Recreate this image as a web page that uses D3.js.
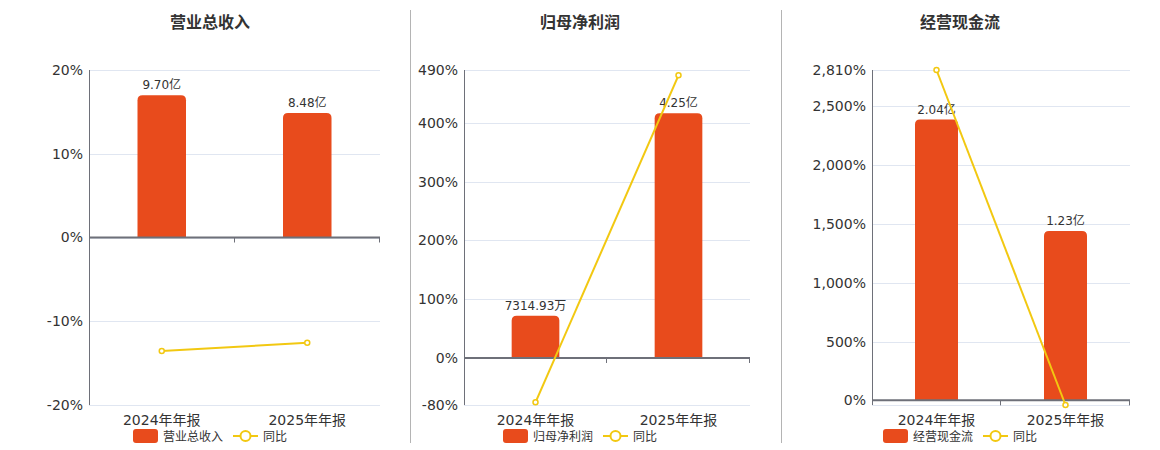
<!DOCTYPE html>
<html>
<head>
<meta charset="utf-8">
<script src="https://cdn.jsdelivr.net/npm/d3@7/dist/d3.min.js"></script>
<style>
  body { margin: 0; background: #fff; }
  text { font-family: "DejaVu Sans", "Noto Sans CJK SC", sans-serif; }
</style>
</head>
<body>
<div class="chart-area"></div>
<script>
// data
var categories = ["2024年年报", "2025年年报"];
var titles = ["营业总收入", "归母净利润", "经营现金流"];

var revenueValues = [9.70, 8.48];
var profitValues = [0.731493, 4.25];
var cashValues = [2.04, 1.23];

var revenueLabels = ["9.70亿", "8.48亿"];
var profitLabels = ["7314.93万", "4.25亿"];
var cashLabels = ["2.04亿", "1.23亿"];

var revenueYoy = [-13.55, -12.58];
var profitYoy = [-75.4, 481];
var cashYoy = [2810, -39.7];

var revenueTicks = [-20, -10, 0, 10, 20];
var profitTicks = [-80, 0, 100, 200, 300, 400, 490];
var cashTicks = [0, 500, 1000, 1500, 2000, 2500, 2810];

var revenueDomain = [-20, 20];
var profitDomain = [-80, 490];
var cashDomain = [-39.7, 2810];

var barColor = "#e84b1c";
var lineColor = "#f2c811";
var axisColor = "#6e7079";
var gridColor = "#e0e6f1";

var panels = [
    { title: titles[0], bars: revenueValues, labels: revenueLabels, yoy: revenueYoy,
      ticks: revenueTicks, domain: revenueDomain, left: 89, right: 380, cx: 210 },
    { title: titles[1], bars: profitValues, labels: profitLabels, yoy: profitYoy,
      ticks: profitTicks, domain: profitDomain, left: 464, right: 750, cx: 580 },
    { title: titles[2], bars: cashValues, labels: cashLabels, yoy: cashYoy,
      ticks: cashTicks, domain: cashDomain, left: 872, right: 1130, cx: 960 }
];

var plotTop = 70, plotBottom = 405;

var svg = d3.select(".chart-area").append("svg")
    .attr("width", 1160)
    .attr("height", 450);

// separators between the panels
svg.selectAll("line.sep")
    .data([410.5, 781.5])
    .enter()
    .append("line")
    .attr("x1", function(d) { return d; })
    .attr("x2", function(d) { return d; })
    .attr("y1", 10)
    .attr("y2", 443)
    .attr("stroke", "#b4b4b4")
    .attr("stroke-width", 1);

// rounded top bar path
function barPath(x, y, w, h, r) {
    r = Math.min(r, h, w / 2);
    return "M" + x + "," + (y + h) +
        "V" + (y + r) +
        "Q" + x + "," + y + " " + (x + r) + "," + y +
        "H" + (x + w - r) +
        "Q" + (x + w) + "," + y + " " + (x + w) + "," + (y + r) +
        "V" + (y + h) + "Z";
}

var fmt = d3.format(",");

panels.forEach(function(p) {
    var g = svg.append("g");

    var y = d3.scaleLinear().domain(p.domain).range([plotBottom, plotTop]);
    var y0 = y(0);

    var x = d3.scaleBand().domain(categories).range([p.left, p.right]);
    var bw = x.bandwidth() / 3;

    // bars share the zero line; tallest bar reaches ~85% of the space above zero
    var yBar = d3.scaleLinear()
        .domain([0, d3.max(p.bars) / 0.85])
        .range([y0, plotTop]);

    // title
    g.append("text")
        .attr("x", p.cx)
        .attr("y", 28)
        .attr("text-anchor", "middle")
        .attr("font-size", 16)
        .attr("font-weight", "bold")
        .attr("fill", "#333")
        .text(p.title);

    // grid lines
    var gridVals = p.ticks.slice();
    if (gridVals.indexOf(p.domain[0]) < 0) gridVals.push(p.domain[0]);
    g.selectAll("line.grid")
        .data(gridVals)
        .enter()
        .append("line")
        .attr("x1", p.left)
        .attr("x2", p.right)
        .attr("y1", function(d) { return Math.round(y(d)) + 0.5; })
        .attr("y2", function(d) { return Math.round(y(d)) + 0.5; })
        .attr("stroke", gridColor)
        .attr("stroke-width", 1);

    // y axis (plain hyphen for negatives, like the original)
    var yAxis = d3.axisLeft(y)
        .tickValues(p.ticks)
        .tickSize(0)
        .tickPadding(6)
        .tickFormat(function(d) { return fmt(d).replace("\u2212", "-") + "%"; });
    var ya = g.append("g")
        .attr("transform", "translate(" + p.left + ",0)")
        .call(yAxis);
    ya.select(".domain").remove();
    ya.selectAll("text")
        .attr("font-size", 14)
        .attr("fill", "#333")
        .style("font-family", "'DejaVu Sans', sans-serif");

    g.append("line")
        .attr("x1", p.left + 0.5)
        .attr("x2", p.left + 0.5)
        .attr("y1", plotTop)
        .attr("y2", plotBottom)
        .attr("stroke", axisColor)
        .attr("stroke-width", 1);

    // bars
    g.selectAll("path.bar")
        .data(p.bars)
        .enter()
        .append("path")
        .attr("class", "bar")
        .attr("fill", barColor)
        .attr("d", function(d, i) {
            var bx = x(categories[i]) + (x.bandwidth() - bw) / 2;
            var by = yBar(d);
            return barPath(bx, by, bw, y0 - by, 5);
        });

    // bar labels
    g.selectAll("text.bar-label")
        .data(p.bars)
        .enter()
        .append("text")
        .attr("class", "bar-label")
        .attr("x", function(d, i) { return x(categories[i]) + x.bandwidth() / 2; })
        .attr("y", function(d) { return yBar(d) - 6; })
        .attr("text-anchor", "middle")
        .attr("font-size", 12)
        .attr("fill", "#333")
        .text(function(d, i) { return p.labels[i]; });

    // x axis at zero
    g.append("line")
        .attr("x1", p.left)
        .attr("x2", p.right)
        .attr("y1", y0)
        .attr("y2", y0)
        .attr("stroke", axisColor)
        .attr("stroke-width", 2);
    g.selectAll("line.xtick")
        .data(categories)
        .enter()
        .append("line")
        .attr("x1", function(d) { return Math.round(x(d) + x.bandwidth()) - 0.5; })
        .attr("x2", function(d) { return Math.round(x(d) + x.bandwidth()) - 0.5; })
        .attr("y1", y0)
        .attr("y2", y0 + 5)
        .attr("stroke", axisColor)
        .attr("stroke-width", 1);

    // category labels
    g.selectAll("text.cat")
        .data(categories)
        .enter()
        .append("text")
        .attr("class", "cat")
        .attr("x", function(d) { return x(d) + x.bandwidth() / 2; })
        .attr("y", 425)
        .attr("text-anchor", "middle")
        .attr("font-size", 14)
        .attr("fill", "#333")
        .text(function(d) { return d; });

    // yoy line
    var line = d3.line()
        .x(function(d, i) { return x(categories[i]) + x.bandwidth() / 2; })
        .y(function(d) { return y(d); });
    g.append("path")
        .datum(p.yoy)
        .attr("d", line)
        .attr("fill", "none")
        .attr("stroke", lineColor)
        .attr("stroke-width", 2);
    g.selectAll("circle.pt")
        .data(p.yoy)
        .enter()
        .append("circle")
        .attr("cx", function(d, i) { return x(categories[i]) + x.bandwidth() / 2; })
        .attr("cy", function(d) { return y(d); })
        .attr("r", 2.5)
        .attr("fill", "#fff")
        .attr("stroke", lineColor)
        .attr("stroke-width", 1.5);

    // legend
    var lx = p.cx - 77;
    var ly = 436;
    g.append("rect")
        .attr("x", lx)
        .attr("y", ly - 7)
        .attr("width", 25)
        .attr("height", 14)
        .attr("rx", 3)
        .attr("fill", barColor);
    g.append("text")
        .attr("x", lx + 30)
        .attr("y", ly + 4.5)
        .attr("font-size", 12)
        .attr("fill", "#333")
        .text(p.title);
    g.append("line")
        .attr("x1", lx + 100)
        .attr("x2", lx + 125)
        .attr("y1", ly)
        .attr("y2", ly)
        .attr("stroke", lineColor)
        .attr("stroke-width", 2);
    g.append("circle")
        .attr("cx", lx + 112.5)
        .attr("cy", ly)
        .attr("r", 5)
        .attr("fill", "#fff")
        .attr("stroke", lineColor)
        .attr("stroke-width", 2);
    g.append("text")
        .attr("x", lx + 130)
        .attr("y", ly + 4.5)
        .attr("font-size", 12)
        .attr("fill", "#333")
        .text("同比");
});
</script>
</body>
</html>
